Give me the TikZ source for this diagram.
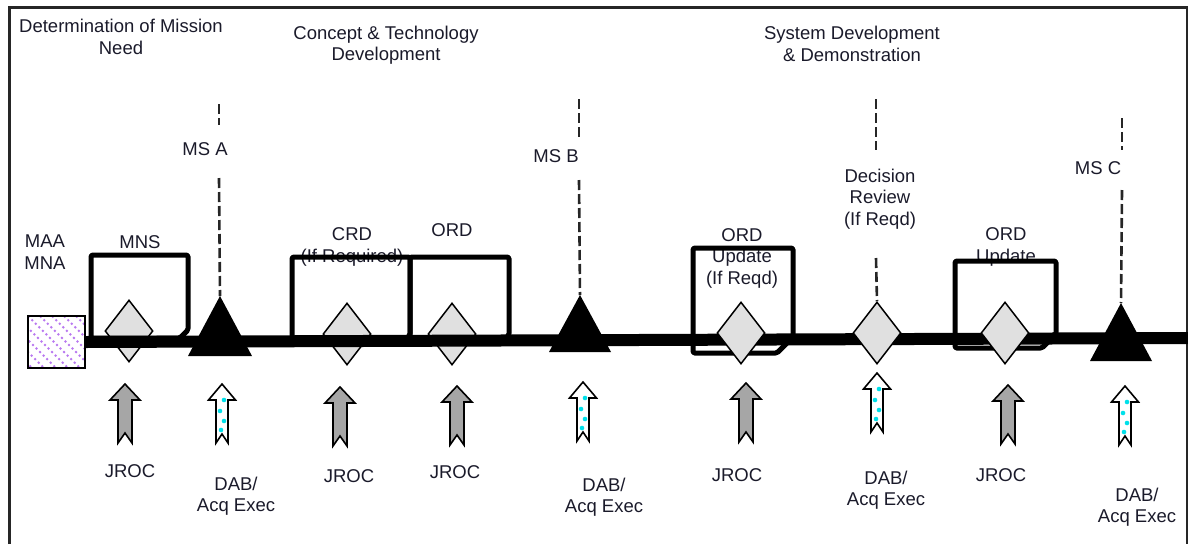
\documentclass[tikz,border=0pt]{standalone}
\usepackage{fontspec}
\setmainfont{Liberation Sans}
\usetikzlibrary{shapes.geometric}
\definecolor{dgray}{HTML}{E0E0E0}
\definecolor{agray}{HTML}{A6A6A6}
\definecolor{hatchc}{HTML}{B878F0}
\definecolor{dotc}{HTML}{00E0EA}
\definecolor{txt}{HTML}{1A1A2A}
\begin{document}
\begin{tikzpicture}[x=1pt,y=-1pt,
  lbl/.style={font=\fontsize{18.5}{21.5}\selectfont, align=center, inner sep=0pt, text=txt},
  dia/.style={shape=diamond, draw, line width=1.5, fill=dgray, minimum width=48, minimum height=62, inner sep=0pt},
  boxst/.style={draw, line width=5, rounded corners=1.5, line join=round},
  msline/.style={draw=black!85, line width=2.6, dash pattern=on 10pt off 4pt},
  frame/.style={draw=black!85, line width=3},
  jarr/.pic={\draw[line width=1.6, fill=agray, line join=miter] (0,0) -- (15,16) -- (7,16) -- (7,59) -- (0,49) -- (-7,59) -- (-7,16) -- (-15,16) -- cycle;},
  darr/.pic={\draw[line width=1.6, fill=white, line join=miter] (0,0) -- (13.5,16) -- (6,16) -- (6,59) -- (0,50) -- (-6,59) -- (-6,16) -- (-13.5,16) -- cycle;
     \foreach \p in {(2,16),(-2,27),(2,37),(-1,46)} \fill[dotc] \p circle (2.3);}
]
\useasboundingbox (0,0) rectangle (1188,544);
% frame
\draw[frame] (9,544) -- (9,7) -- (1187,7) -- (1187,544);

% titles
\node[lbl] (det) at (121,37) {Determination of Mission\\Need};
\node[lbl] (ctd) at (386,45) {Concept \& Technology\\Development};
\node[lbl] (sdd) at (852,44) {System Development\\\& Demonstration};

% upper labels
\node[lbl] (maa) at (45,252) {MAA\\MNA};
\node[lbl] (mns) at (140,242) {MNS};
\node[lbl] (crd) at (352,247) {CRD\\(If Required)};
\node[lbl] (ord) at (452,230) {ORD};
\node[lbl] (ordu1) at (742,258) {ORD\\Update\\(If Reqd)};
\node[lbl] (ordu2) at (1006,247) {ORD\\Update};
\node[lbl] (msAl) at (205,149) {MS A};
\node[lbl] (msBl) at (556,156) {MS B};
\node[lbl] (drl) at (880,199) {Decision\\Review\\(If Reqd)};
\node[lbl] (msCl) at (1098,168) {MS C};

% hatched square
\begin{scope}
  \clip (28,316) rectangle (85,368);
  \foreach \i in {-60,-48,...,60}
    \draw[hatchc, line width=2, dash pattern=on 2pt off 3pt] ({28+\i},316) -- ++(54,54);
\end{scope}
\node[draw, line width=1.6, minimum width=57, minimum height=52, inner sep=0pt] (sq) at (56.5,342) {};

% diamonds behind the timeline
\node[dia] (d1) at (129,331) {};
\node[dia] (d2) at (347,334) {};
\node[dia] (d3) at (452,334) {};

% boxes on timeline (left part)
\draw[boxst] (91,255) -- (188,255) -- (188,330) -- (180,338) -- (91,338) -- cycle;
\draw[boxst] (292,257) -- (410,257) -- (410,335) -- (402,343) -- (292,343) -- cycle;
\draw[boxst] (410,257) -- (509,257) -- (509,335) -- (501,343) -- (410,343) -- cycle;

% timeline
\coordinate (tend) at (1188,338);
\draw[line width=12] (sq.east) -- (tend);

% boxes (right part)
\draw[boxst] (693,248) -- (793,248) -- (793,337) -- (777,353) -- (693,353) -- cycle;
\draw[boxst] (955,261) -- (1056,261) -- (1056,334) -- (1042,348) -- (955,348) -- cycle;

% diamonds in front
\node[dia] (d4) at (741,333) {};
\node[dia] (d5) at (877,333) {};
\node[dia] (d6) at (1005,333) {};

% milestone triangles
\coordinate (apA) at (220,296);
\coordinate (apB) at (580,295);
\coordinate (apC) at (1121,303);
\fill (apA) -- ++(32,60) -- ++(-64,0) -- cycle;
\fill (apB) -- ++(31,57) -- ++(-62,0) -- cycle;
\fill (apC) -- ++(31,58) -- ++(-62,0) -- cycle;

% dashed milestone lines
\coordinate (tA) at (219,104);
\coordinate (tB) at (579,99);
\coordinate (tD) at (876,99);
\coordinate (tC) at (1122,118);
\draw[msline] (tA) -- (219,125);
\draw[msline] (219,178) -- (apA);
\draw[msline] (tB) -- (579,137);
\draw[msline] (579,180) -- (apB);
\draw[msline] (tD) -- (876,150);
\draw[msline] (876,258) -- (d5.north);
\draw[msline] (tC) -- (1122,150);
\draw[msline] (1122,190) -- (apC);

% input arrows
\pic at (125,384) {jarr};
\pic at (340,387) {jarr};
\pic at (457,386) {jarr};
\pic at (746,383) {jarr};
\pic at (1008,385) {jarr};
\pic at (222,384) {darr};
\pic at (583,382) {darr};
\pic at (877,373) {darr};
\pic at (1125,386) {darr};

% lower labels
\node[lbl] (j1) at (130,471) {JROC};
\node[lbl] (j2) at (349,476) {JROC};
\node[lbl] (j3) at (455,472) {JROC};
\node[lbl] (j4) at (737,475) {JROC};
\node[lbl] (j5) at (1001,475) {JROC};
\node[lbl] (a1) at (236,496) {DAB/\\Acq Exec};
\node[lbl] (a2) at (604,497) {DAB/\\Acq Exec};
\node[lbl] (a3) at (886,490) {DAB/\\Acq Exec};
\node[lbl] (a4) at (1137,507) {DAB/\\Acq Exec};
\end{tikzpicture}
\end{document}
